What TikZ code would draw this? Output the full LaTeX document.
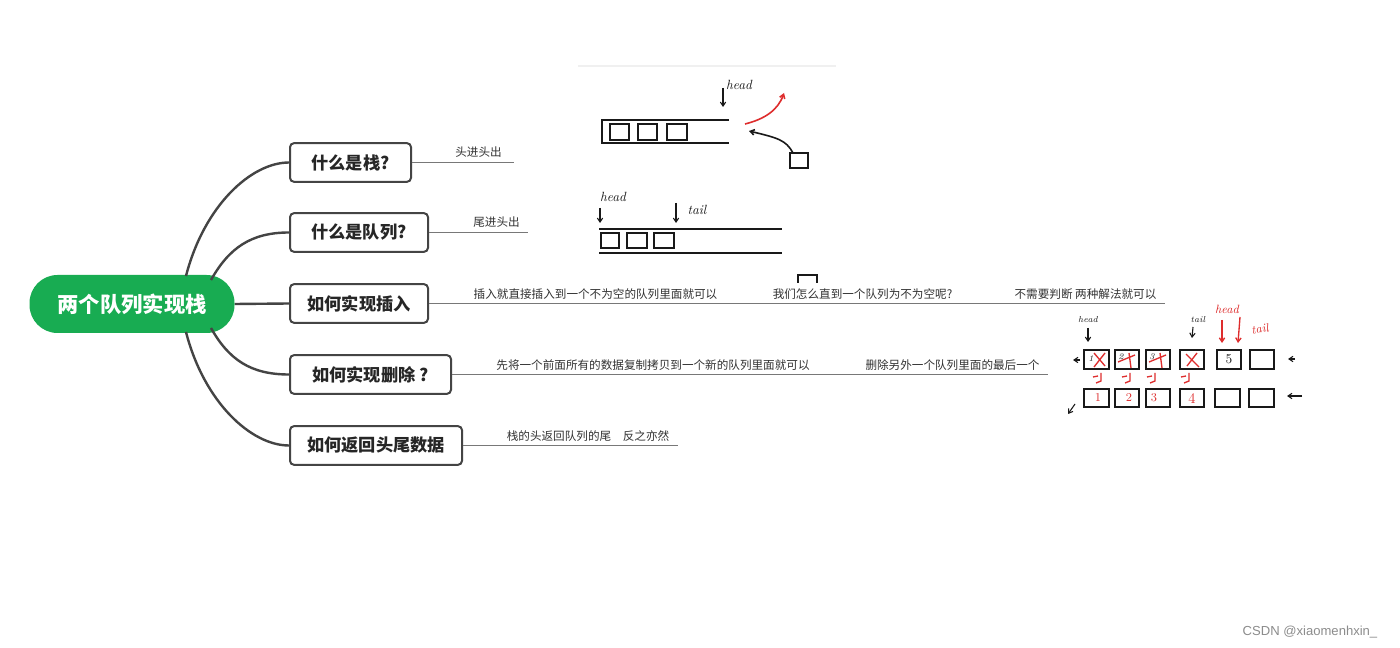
\documentclass[tikz,border=0pt]{standalone}
\usepackage{fontspec}
\newfontfamily\cjk{Noto Sans CJK SC}
\newfontfamily\wm{Liberation Sans}
\usetikzlibrary{calc,arrows.meta}
\definecolor{rootgreen}{RGB}{24,172,82}
\definecolor{edgec}{RGB}{68,68,68}
\definecolor{leaflc}{RGB}{120,120,120}
\definecolor{leaftc}{RGB}{50,50,50}
\definecolor{pen}{RGB}{25,25,25}
\definecolor{redpen}{RGB}{222,45,45}
\begin{document}
\begin{tikzpicture}[x=0.75pt,y=-0.75pt,
  rootnode/.style={fill=rootgreen, rounded corners=21pt, minimum width=153.75pt, minimum height=43.5pt, text=white, font=\cjk\bfseries\fontsize{16}{18}\selectfont, inner sep=0pt},
  branch/.style={draw=edgec, line width=1.5pt, fill=white, rounded corners=3pt, minimum height=29pt, anchor=west, font=\cjk\bfseries\fontsize{12.9}{15}\selectfont, text=black!85, inner sep=0pt},
  leaf/.style={font=\cjk\fontsize{8.7}{10}\selectfont, text=leaftc, inner sep=0pt},
  leafline/.style={draw=leaflc, line width=0.8pt},
  conn/.style={draw=edgec, line width=1.8pt},
  sketch/.style={draw=pen, line width=1.2pt},
  thinpen/.style={draw=pen, line width=0.8pt},
  redline/.style={draw=redpen, line width=1pt},
  hand/.style={font=\itshape\fontsize{10}{12}\selectfont, text=pen, inner sep=0pt},
  smallhand/.style={font=\itshape\fontsize{6.5}{8}\selectfont, text=pen, inner sep=0pt},
  barb/.style={-{Straight Barb[length=3pt,width=4pt]}}
]
\useasboundingbox (0,0) rectangle (1400,648);
\fill[white] (0,0) rectangle (1400,648);

% connectors first (behind nodes)
\coordinate (c1) at (186,276);
\coordinate (c2) at (211,280);
\coordinate (c4) at (211,328);
\coordinate (c5) at (186,332);

% root and branches
\node[rootnode] (root) at (132,304) {两个队列实现栈};
\node[branch, minimum width=90.75pt] (n1) at (289,162.5) {什么是栈?};
\node[branch, minimum width=103.5pt] (n2) at (289,232.5) {什么是队列?};
\node[branch, minimum width=103.5pt] (n3) at (289,303.5) {如何实现插入};
\node[branch, minimum width=120.75pt] (n4) at (289,374.5) {如何实现删除 ?};
\node[branch, minimum width=129pt] (n5) at (289,445.5) {如何返回头尾数据};

\draw[conn] (c1) .. controls +(18,-70) and +(-38,0) .. (n1.west);
\draw[conn] (c2) .. controls +(18,-32) and +(-38,0) .. (n2.west);
\draw[conn] (root.east) -- (n3.west);
\draw[conn] (c4) .. controls +(18,32) and +(-38,0) .. (n4.west);
\draw[conn] (c5) .. controls +(18,70) and +(-38,0) .. (n5.west);

% leaves
\coordinate (e1) at (514,162.5);
\draw[leafline] (n1.east) -- (e1);
\node[leaf] (t1) at (478.5,152) {头进头出};
\coordinate (e2) at (528,232.5);
\draw[leafline] (n2.east) -- (e2);
\node[leaf] (t2) at (496.5,222) {尾进头出};
\coordinate (e3) at (1165,303.5);
\draw[leafline] (n3.east) -- (e3);
\node[leaf] (t3a) at (595.5,294) {插入就直接插入到一个不为空的队列里面就可以};
\node[leaf] (t3b) at (862.5,294) {我们怎么直到一个队列为不为空呢?};
\node[leaf] (t3c) at (1085.5,294) {不需要判断 两种解法就可以};
\coordinate (e4) at (1048,374.5);
\draw[leafline] (n4.east) -- (e4);
\node[leaf] (t4a) at (653,365) {先将一个前面所有的数据复制拷贝到一个新的队列里面就可以};
\node[leaf] (t4b) at (952.5,365) {删除另外一个队列里面的最后一个};
\coordinate (e5) at (678,445.5);
\draw[leafline] (n5.east) -- (e5);
\node[leaf] (t5) at (588,436) {栈的头返回队列的尾　反之亦然};

% small bracket
\draw[pen, line width=1.4pt] (798,283) -- (798,275) -- (817,275) -- (817,283);

% sketch 1
\draw[black!6, line width=0.8pt] (578,66) -- (836,66);
\draw[sketch] (729,120) -- (602,120) -- (602,143) -- (729,143);
\draw[sketch] (610,124) rectangle (629,140);
\draw[sketch] (638,124) rectangle (657,140);
\draw[sketch] (667,124) rectangle (687,140);
\node[hand] (h1) at (739,85) {head};
\draw[thinpen, barb] (723,88) -- (723,107);
\draw[redpen, line width=1.2pt, barb] (745,124) .. controls (765,119) and (778,110) .. (784,93);
\draw[sketch] (790,153) rectangle (808,168);
\draw[sketch, barb] (793,153) .. controls (786,140) and (778,138) .. (749,131);

% sketch 2
\node[hand] (h2) at (613,197) {head};
\draw[thinpen, barb] (600,208) -- (600,223);
\node[hand] (tl2) at (697,210) {tail};
\draw[thinpen, barb] (676,203) -- (676,223);
\draw[sketch] (599,229) -- (782,229);
\draw[sketch] (599,253) -- (782,253);
\draw[sketch] (601,233) rectangle (619,248);
\draw[sketch] (627,233) rectangle (647,248);
\draw[sketch] (654,233) rectangle (674,248);

% sketch 3
\foreach \a/\b in {1084/1109,1115/1139,1146/1170,1180/1204,1217/1241,1250/1274}
  \draw[thinpen, line width=1pt] (\a,350) rectangle (\b,369);
\foreach \a/\b in {1084/1109,1115/1139,1146/1170,1180/1204,1215/1240,1249/1274}
  \draw[thinpen, line width=1pt] (\a,389) rectangle (\b,407);
\node[smallhand] (d1) at (1091,359) {1};
\node[smallhand] (d2) at (1121,357) {2};
\node[smallhand] (d3) at (1152,357) {3};
\draw[redline] (1094,353) -- (1105,366);
\draw[redline] (1105,353) -- (1094,367);
\draw[redline] (1118,362) -- (1135,355);
\draw[redline] (1129,353) -- (1131,368);
\draw[redline] (1149,362) -- (1166,355);
\draw[redline] (1160,353) -- (1162,368);
\draw[redline] (1186,354) -- (1199,367);
\draw[redline] (1197,353) -- (1187,366);
\node[font=\fontsize{10}{12}\selectfont, text=pen, inner sep=0pt] (d5) at (1229,359) {5};
\node[font=\fontsize{9}{11}\selectfont, text=redpen, inner sep=0pt] (r1) at (1098,398) {1};
\node[font=\fontsize{9}{11}\selectfont, text=redpen, inner sep=0pt] (r2) at (1129,398) {2};
\node[font=\fontsize{9}{11}\selectfont, text=redpen, inner sep=0pt] (r3) at (1154,398) {3};
\node[font=\fontsize{11}{13}\selectfont, text=redpen, inner sep=0pt] (r4) at (1192,399) {4};
\foreach \x in {1101,1130,1155,1189} {
  \draw[redline] (\x-8,377) -- (\x-3,376);
  \draw[redline] (\x,373) -- (\x,381) -- (\x-5,383);
}
\draw[thinpen, barb] (1080,360) -- (1073,360);
\draw[thinpen, barb] (1295,359) -- (1288,359);
\draw[thinpen, barb] (1302,396) -- (1287,396);
\draw[thinpen, barb] (1075,404) -- (1068,414);
\node[smallhand] (h3) at (1088,320) {head};
\draw[thinpen, barb] (1088,328) -- (1088,342);
\node[smallhand] (tl3) at (1198,320) {tail};
\draw[thinpen, barb] (1193,327) -- (1192,338);
\node[font=\itshape\fontsize{9}{11}\selectfont, text=redpen, inner sep=0pt] (h4) at (1227,309) {head};
\draw[redline, barb] (1222,320) -- (1222,343);
\draw[redline, barb] (1240,317) -- (1238,343);
\node[font=\itshape\fontsize{9}{11}\selectfont, text=redpen, inner sep=0pt, rotate=10] (tl4) at (1260,329) {tail};

% watermark
\node[font=\wm\fontsize{9.8}{12}\selectfont, text=black!45, inner sep=0pt] (wm) at (1310,632) {CSDN @xiaomenhxin\_};
\end{tikzpicture}
\end{document}
